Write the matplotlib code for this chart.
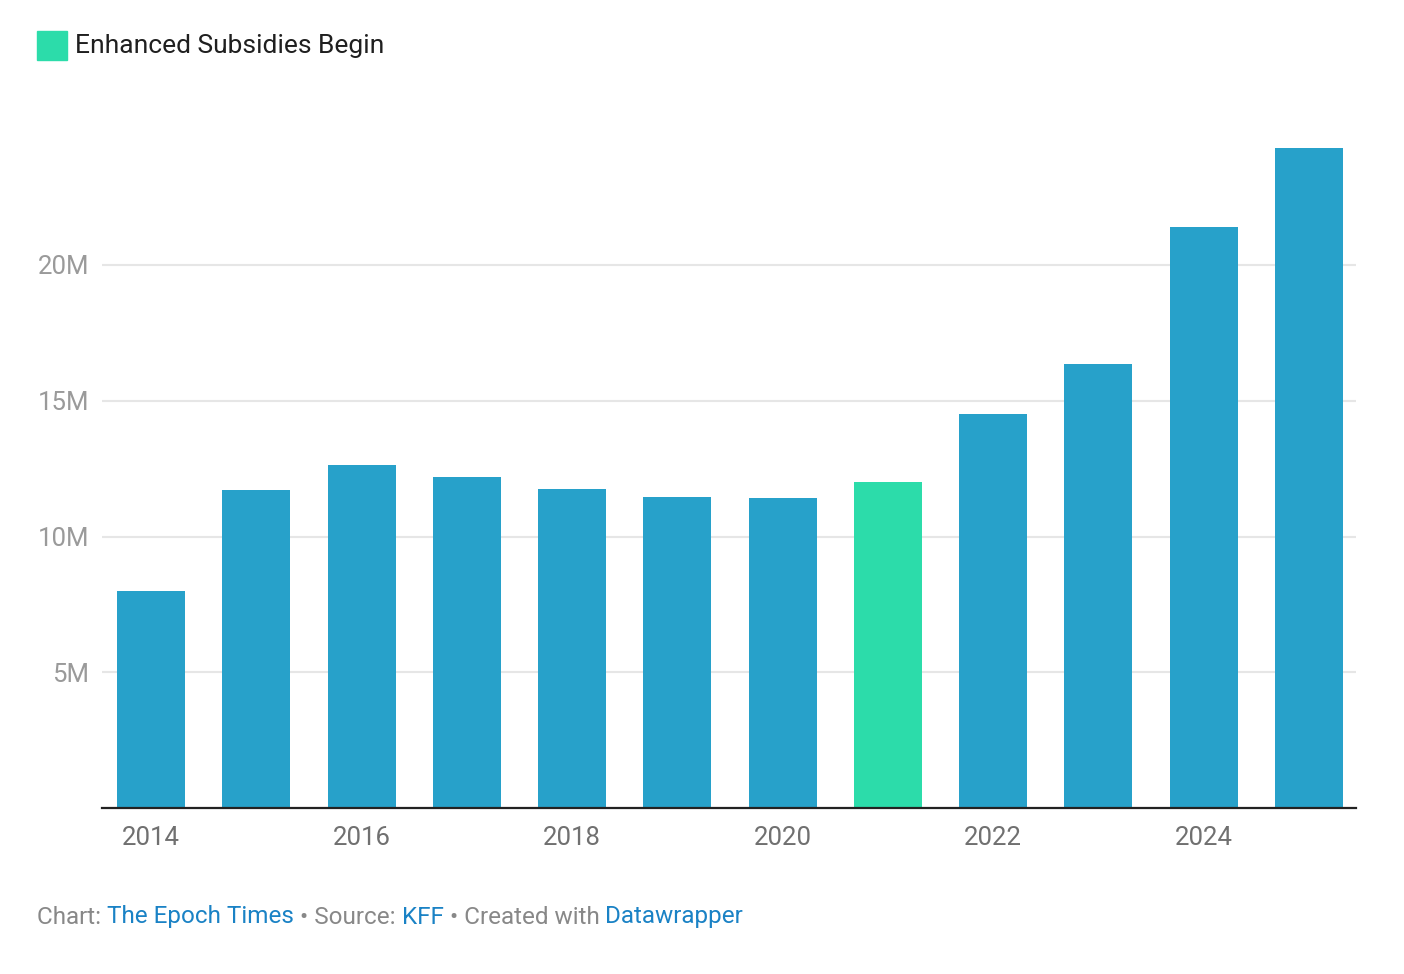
import matplotlib
import matplotlib.pyplot as plt
from matplotlib.patches import Rectangle

matplotlib.use('Agg')

plt.rcParams['font.family'] = ['Roboto', 'DejaVu Sans']

years = [2014, 2015, 2016, 2017, 2018, 2019, 2020, 2021, 2022, 2023, 2024, 2025]
enrollment = [8.0, 11.7, 12.65, 12.2, 11.75, 11.45, 11.4, 12.0, 14.5, 16.35, 21.4, 24.3]  # millions
highlight_year = 2021
y_ticks = [5, 10, 15, 20]
x_tick_years = [2014, 2016, 2018, 2020, 2022, 2024]

blue = '#27a1ca'
green = '#2cdcaa'

W, H = 1404, 974
fig = plt.figure(figsize=(W / 100, H / 100), dpi=100)
ax = fig.add_axes([102 / W, 1 - 808 / H, (1356 - 102) / W, (808 - 129.25) / H])

pos = list(range(len(years)))
colors = [green if y == highlight_year else blue for y in years]
ax.bar(pos, enrollment, width=0.646, color=colors, zorder=3)

ax.set_xlim(-0.465, len(years) - 1 + 0.446)
ax.set_ylim(0, 25)

ax.set_yticks(y_ticks)
ax.set_yticklabels([f'{t}M' for t in y_ticks])
ax.set_xticks([years.index(y) for y in x_tick_years])
ax.set_xticklabels([str(y) for y in x_tick_years])

ax.grid(axis='y', color='#e6e6e6', linewidth=1.5, zorder=0)
ax.tick_params(axis='y', length=0, pad=9, labelsize=18.5, labelcolor='#9a9a9a')
ax.tick_params(axis='x', length=0, pad=13, labelsize=18.5, labelcolor='#707070')

for s in ['top', 'right', 'left']:
    ax.spines[s].set_visible(False)
ax.spines['bottom'].set_color('#222222')
ax.spines['bottom'].set_linewidth(1.6)
ax.spines['bottom'].set_zorder(4)

# legend
fig.patches.append(Rectangle((37 / W, 1 - 60 / H), 30 / W, 29 / H,
                             transform=fig.transFigure, color=green))
fig.text(75 / W, 1 - 46 / H, 'Enhanced Subsidies Begin', fontsize=19,
         color='#1f1f1f', va='center', ha='left')

# footer
parts = [('Chart: ', '#888888'), ('The Epoch Times', '#1a82c5'), (' • Source: ', '#888888'),
         ('KFF', '#1a82c5'), (' • Created with ', '#888888'), ('Datawrapper', '#1a82c5')]
fig.canvas.draw()
renderer = fig.canvas.get_renderer()
x = 37 / W
for txt, col in parts:
    t = fig.text(x, 1 - 917 / H, txt, fontsize=17.5, color=col, va='center', ha='left')
    bb = t.get_window_extent(renderer=renderer)
    x = bb.x1 / W

fig.savefig('out.png', dpi=100)
